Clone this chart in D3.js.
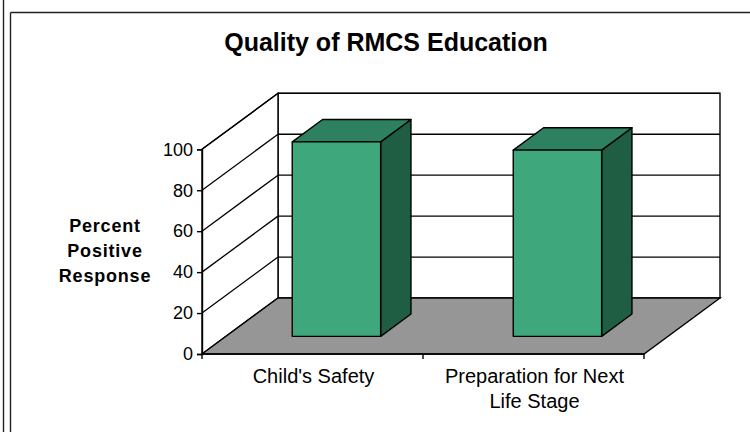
<!DOCTYPE html>
<html>
<head>
<meta charset="utf-8">
<script src="https://cdn.jsdelivr.net/npm/d3@7"></script>
<style>
  html, body { margin: 0; padding: 0; background: #fff; }
  svg { display: block; font-family: "Liberation Sans", Arial, sans-serif; }
</style>
</head>
<body>
<svg id="chart" width="750" height="432"></svg>
<script>
// ---- data ----
const title = "Quality of RMCS Education";
const yAxisTitle = ["Percent", "Positive", "Response"];
const categories = ["Child's Safety", "Preparation for Next Life Stage"];
const categoryLines = [["Child's Safety"], ["Preparation for Next", "Life Stage"]];
const values = [95, 91];
const yTicks = [0, 20, 40, 60, 80, 100];

// ---- layout ----
const svg = d3.select("#chart");
const W = 750, H = 432;
const front = { left: 202, right: 644, bottom: 354, top: 149.3 };
const depth = { dx: 76, dy: -56 };           // full-depth oblique offset
const barDepth = [0.315, 0.714];             // bar front/back as fraction of depth

const x = d3.scaleBand().domain(categories)
  .range([front.left, front.right]).paddingInner(0.6).paddingOuter(0.3);
const y = d3.scaleLinear().domain([0, 100]).range([front.bottom, front.top]);
const d = d3.scaleLinear().domain([0, 1]).range([0, 1]);
const off = t => [depth.dx * d(t), depth.dy * d(t)];
const P = (px, py, t) => { const o = off(t); return [px + o[0], py + o[1]]; };
const line = pts => "M" + pts.map(p => p.join(",")).join("L") + "Z";

const colors = { front: "#3ea77b", top: "#2d8160", side: "#1f5e42", floor: "#969696" };

// ---- frame ----
const frame = svg.append("g").attr("stroke", "#222").attr("stroke-width", 1.4).attr("fill", "none");
frame.append("line").attr("x1", 3.5).attr("x2", 3.5).attr("y1", 0).attr("y2", H);
frame.append("line").attr("x1", 10.5).attr("x2", 10.5).attr("y1", 12.5).attr("y2", H);
frame.append("line").attr("x1", 10.5).attr("x2", W).attr("y1", 12.5).attr("y2", 12.5);

// ---- title ----
svg.append("text").attr("x", 386).attr("y", 50.5).attr("text-anchor", "middle")
  .attr("font-size", 25).attr("font-weight", "bold").attr("fill", "#000").text(title);

// ---- walls ----
const g = svg.append("g");
const y0 = y(0), y100 = y(100);
// back wall
g.append("path").attr("d", line([P(front.left, y100, 1), P(front.right, y100, 1), P(front.right, y0, 1), P(front.left, y0, 1)]))
  .attr("fill", "#fff").attr("stroke", "#000").attr("stroke-width", 1.4);
// left wall
g.append("path").attr("d", line([[front.left, y100], P(front.left, y100, 1), P(front.left, y0, 1), [front.left, y0]]))
  .attr("fill", "#fff").attr("stroke", "#000").attr("stroke-width", 1.4);
// floor
g.append("path").attr("d", line([[front.left, y0], [front.right, y0], P(front.right, y0, 1), P(front.left, y0, 1)]))
  .attr("fill", colors.floor).attr("stroke", "#000").attr("stroke-width", 1.4);

// gridlines (back wall + left wall)
yTicks.filter(v => v > 0).forEach(v => {
  const a = P(front.left, y(v), 1), b = P(front.right, y(v), 1);
  g.append("line").attr("x1", a[0]).attr("y1", a[1]).attr("x2", b[0]).attr("y2", b[1])
    .attr("stroke", "#000").attr("stroke-width", 1.3);
  g.append("line").attr("x1", front.left).attr("y1", y(v)).attr("x2", a[0]).attr("y2", a[1])
    .attr("stroke", "#000").attr("stroke-width", 1.3);
});

// ---- bars ----
const bars = svg.append("g").attr("stroke", "#000").attr("stroke-width", 1.4).attr("stroke-linejoin", "round");
categories.forEach((c, i) => {
  const x0 = x(c), x1 = x(c) + x.bandwidth();
  const yt = y(values[i]);
  const f = barDepth[0], b = barDepth[1];
  // side
  bars.append("path").attr("d", line([P(x1, yt, f), P(x1, yt, b), P(x1, y0, b), P(x1, y0, f)]))
    .attr("fill", colors.side);
  // top
  bars.append("path").attr("d", line([P(x0, yt, f), P(x0, yt, b), P(x1, yt, b), P(x1, yt, f)]))
    .attr("fill", colors.top);
  // front
  bars.append("path").attr("d", line([P(x0, yt, f), P(x1, yt, f), P(x1, y0, f), P(x0, y0, f)]))
    .attr("fill", colors.front);
});

// ---- axes ----
const yAxis = svg.append("g").attr("transform", `translate(${front.left},0)`)
  .call(d3.axisLeft(y).tickValues(yTicks).tickSize(5).tickPadding(4));
yAxis.select(".domain").attr("stroke", "#000").attr("stroke-width", 1.4);
yAxis.selectAll(".tick line").attr("stroke", "#000").attr("stroke-width", 1.4);
yAxis.selectAll(".tick text").attr("font-size", 18).attr("fill", "#000")
  .attr("font-family", "'Liberation Sans', Arial, sans-serif");

const xAxisG = svg.append("g").attr("transform", `translate(0,${y0})`);
xAxisG.append("line").attr("x1", front.left).attr("x2", front.right).attr("y1", 0).attr("y2", 0)
  .attr("stroke", "#000").attr("stroke-width", 1.4);
// category boundaries: band center +/- step/2
const bnd = [front.left].concat(categories.map(c => x(c) + x.bandwidth() / 2 + x.step() / 2));
bnd.forEach(bx => {
  xAxisG.append("line").attr("x1", bx).attr("x2", bx).attr("y1", 0).attr("y2", 5)
    .attr("stroke", "#000").attr("stroke-width", 1.4);
});
categories.forEach((c, i) => {
  const cx = x(c) + x.bandwidth() / 2 + 1;
  const t = xAxisG.append("text").attr("text-anchor", "middle").attr("font-size", 20).attr("fill", "#000");
  categoryLines[i].forEach((ln, j) => {
    t.append("tspan").attr("x", cx).attr("y", 28.5 + j * 25.5).text(ln);
  });
});

// ---- y axis title ----
const yt = svg.append("text").attr("text-anchor", "middle").attr("font-size", 18)
  .attr("font-weight", "bold").attr("letter-spacing", 0.8).attr("fill", "#000");
yAxisTitle.forEach((ln, j) => {
  yt.append("tspan").attr("x", 105).attr("y", 231.5 + j * 25).text(ln);
});
</script>
</body>
</html>
